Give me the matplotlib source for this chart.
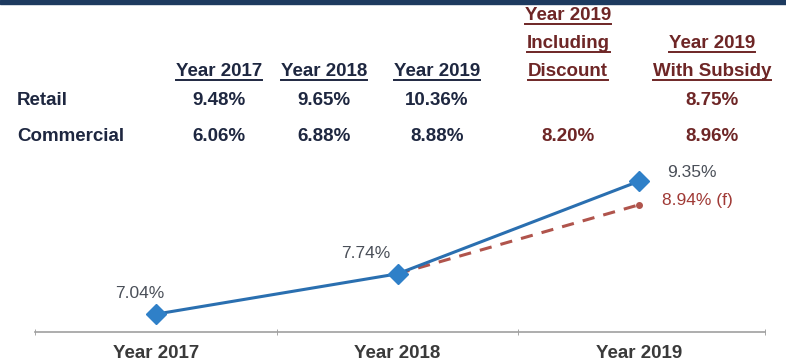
import matplotlib.pyplot as plt
import numpy as np
from matplotlib.lines import Line2D

plt.rcParams['font.family'] = ['Liberation Sans', 'DejaVu Sans']

# rate table above the chart
row_names = ['Retail', 'Commercial']
col_headers = [['Year 2017'], ['Year 2018'], ['Year 2019'],
               ['Year 2019', 'Including', 'Discount'],
               ['Year 2019', 'With Subsidy']]
retail = ['9.48%', '9.65%', '10.36%', '', '8.75%']
commercial = ['6.06%', '6.88%', '8.88%', '8.20%', '8.96%']

# blended rate trend
years = ['Year 2017', 'Year 2018', 'Year 2019']
actual = [7.04, 7.74, 9.35]
forecast = [np.nan, 7.74, 8.94]

W, H = 786, 362
fig = plt.figure(figsize=(W / 100, H / 100), dpi=100)
fig.patch.set_facecolor('white')

def fy(px):
    return 1 - px / H

# dark band along the top edge
fig.patches.append(plt.Rectangle((0, fy(4)), 1, 4 / H, transform=fig.transFigure,
                                 color='#1d3a5f', zorder=0))

navy = '#1e2740'
maroon = '#6e2626'
col_x = [219, 324, 437, 568, 712]
col_colors = [navy, navy, navy, maroon, maroon]
base_last = 76
line_gap = 28

header_texts = []
for cx, lines, c in zip(col_x, col_headers, col_colors):
    n = len(lines)
    for i, s in enumerate(lines):
        by = base_last - (n - 1 - i) * line_gap
        t = fig.text(cx / W, fy(by), s, ha='center', va='baseline',
                     fontsize=13.5, fontweight='bold', color=c)
        header_texts.append((t, by, c))

row_base = [105, 141]
for name, yb in zip(row_names, row_base):
    fig.text(17 / W, fy(yb), name, ha='left', va='baseline',
             fontsize=13.5, fontweight='bold', color=navy)

for vals, yb in zip([retail, commercial], row_base):
    for cx, v, c in zip(col_x, vals, col_colors):
        if v:
            fig.text(cx / W, fy(yb), v, ha='center', va='baseline',
                     fontsize=13.5, fontweight='bold', color=c)

# underline every header line
fig.canvas.draw()
r = fig.canvas.get_renderer()
for t, by, c in header_texts:
    bb = t.get_window_extent(renderer=r)
    fig.add_artist(Line2D([bb.x0 / W, bb.x1 / W], [fy(by + 3.5), fy(by + 3.5)],
                          transform=fig.transFigure, color=c, lw=1.4))

# trend chart
ax = fig.add_axes([35 / W, fy(332), 730 / W, (332 - 150) / H])
x = np.arange(len(years))
ax.plot(x, forecast, color='#b0544c', lw=2.2, ls=(0, (4, 3)), zorder=2)
ax.plot(x[2], forecast[2], 'o', color='#b0544c', ms=4, zorder=2)
ax.plot(x, actual, color='#2a6fb0', lw=2.2, marker='D', ms=10,
        markerfacecolor='#2f80c8', markeredgecolor='#2f80c8', zorder=3)

ax.set_xlim(-0.5, 2.52)
ax.set_ylim(6.73, 9.89)
ax.set_xticks(x)
ax.set_xticklabels(years, fontsize=13.5, fontweight='bold', color='#3a3a3a')
ax.set_xticks([-0.5, 0.5, 1.5, 2.52], minor=True)
ax.tick_params(axis='x', which='major', length=0, pad=9)
ax.tick_params(axis='x', which='minor', length=4, color='#999999', direction='inout')
ax.set_yticks([])
for s in ['left', 'right', 'top']:
    ax.spines[s].set_visible(False)
ax.spines['bottom'].set_color('#a0a0a0')
ax.spines['bottom'].set_linewidth(1.2)
ax.patch.set_alpha(0)

lab_offsets = [(-16, 21), (-32, 20), (28, 9)]
for xi, v, off in zip(x, actual, lab_offsets):
    ax.annotate(f'{v:.2f}%', (xi, v), textcoords='offset pixels', xytext=off,
                ha='center' if xi < 2 else 'left', va='center',
                fontsize=12.5, color='#4a4f58')
ax.annotate(f'{forecast[2]:.2f}% (f)', (x[2], forecast[2]), textcoords='offset pixels',
            xytext=(23, 4), ha='left', va='center', fontsize=12.5, color='#a03a36')

fig.savefig('out.png', dpi=100)
